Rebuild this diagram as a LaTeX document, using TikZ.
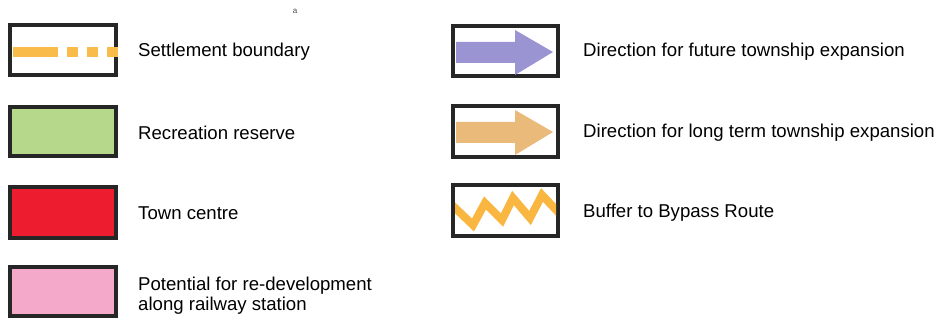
\documentclass[tikz,border=0pt]{standalone}
\usepackage{fontspec}
\setmainfont{Liberation Sans}
\usetikzlibrary{positioning}

\definecolor{boundary}{RGB}{249,187,74}
\definecolor{recgreen}{RGB}{182,216,138}
\definecolor{townred}{RGB}{237,28,46}
\definecolor{railpink}{RGB}{244,168,202}
\definecolor{futurearrow}{RGB}{155,148,210}
\definecolor{longarrow}{RGB}{233,186,122}
\definecolor{bufferline}{RGB}{249,182,64}

\begin{document}
\begin{tikzpicture}[x=1pt,y=-1pt,
  keybox/.style={draw=black!85,line width=4pt},
  label/.style={anchor=west,inner sep=0pt,font=\fontsize{18.6}{20}\selectfont,align=left}]
\useasboundingbox (0,0) rectangle (941,320);
\node[font=\fontsize{8}{8}\selectfont,inner sep=0pt,text=black!70] (mark) at (295,11) {a};

% left column
\draw[keybox] (10,25) rectangle (116,75);
\draw[boundary,line width=10pt] (13,52) -- (58,52);
\foreach \x in {67,87,107}
  \fill[boundary] (\x,47) rectangle ++(11,10);
\node[label] (boundarytxt) at (138,52) {Settlement boundary};

\draw[keybox,fill=recgreen] (10,107) rectangle (116,156);
\node[label] (rectxt) at (138,133) {Recreation reserve};

\draw[keybox,fill=townred] (10,187) rectangle (116,238);
\node[label] (towntxt) at (138,213) {Town centre};

\draw[keybox,fill=railpink] (10,267) rectangle (116,316);
\node[label] (railtxt) at (138,296) {Potential for re-development\\along railway station};

% right column
\draw[keybox] (453,26) rectangle (558,76);
\fill[futurearrow] (456,42) -- (515,42) -- (515,30) -- (553,52) -- (515,75) -- (515,63) -- (456,63) -- cycle;
\node[label] (futuretxt) at (583,52) {Direction for future township expansion};

\draw[keybox] (453,106) rectangle (558,157);
\fill[longarrow] (456,122) -- (515,122) -- (515,110) -- (553,132) -- (515,155) -- (515,143) -- (456,143) -- cycle;
\node[label] (longtxt) at (583,133) {Direction for long term township expansion};

\draw[keybox] (453,185) rectangle (558,236);
\begin{scope}
\clip (455,187) rectangle (556,234);
\draw[bufferline,line width=8pt,line join=miter]
  (452,205) -- (473,225) -- (485,203) -- (502,220) -- (513,198)
  -- (530,218) -- (542,195) -- (560,214);
\end{scope}
\node[label] (buffertxt) at (583,213) {Buffer to Bypass Route};
\end{tikzpicture}
\end{document}
